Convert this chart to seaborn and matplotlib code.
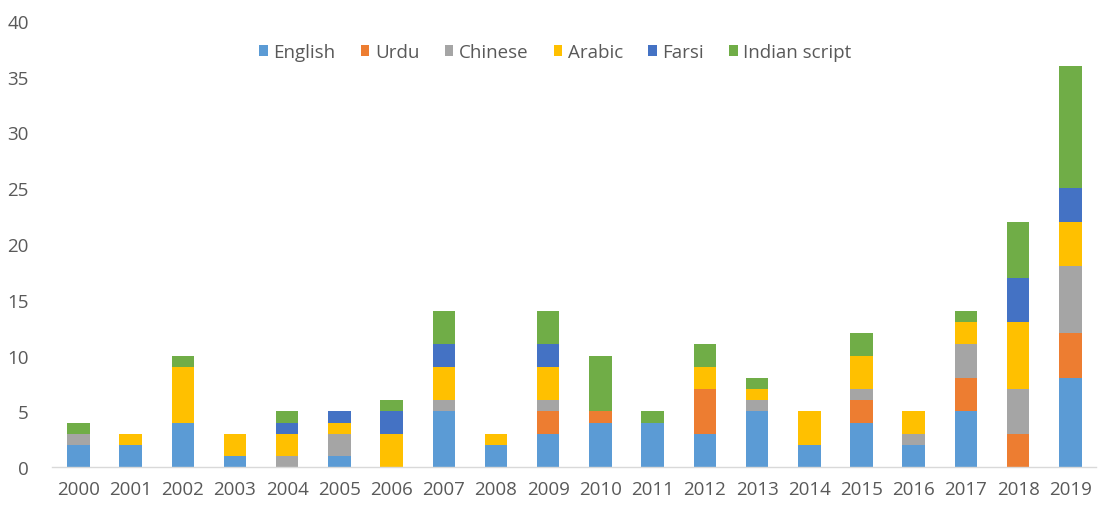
import numpy as np
import pandas as pd
import matplotlib
matplotlib.use("Agg")
import matplotlib.pyplot as plt
import seaborn as sns

years = [str(y) for y in range(2000, 2020)]
english = [2, 2, 4, 1, 0, 1, 0, 5, 2, 3, 4, 4, 3, 5, 2, 4, 2, 5, 0, 8]
urdu    = [0, 0, 0, 0, 0, 0, 0, 0, 0, 2, 1, 0, 4, 0, 0, 2, 0, 3, 3, 4]
chinese = [1, 0, 0, 0, 1, 2, 0, 1, 0, 1, 0, 0, 0, 1, 0, 1, 1, 3, 4, 6]
arabic  = [0, 1, 5, 2, 2, 1, 3, 3, 1, 3, 0, 0, 2, 1, 3, 3, 2, 2, 6, 4]
farsi   = [0, 0, 0, 0, 1, 1, 2, 2, 0, 2, 0, 0, 0, 0, 0, 0, 0, 0, 4, 3]
indian  = [1, 0, 1, 0, 1, 0, 1, 3, 0, 3, 5, 1, 2, 1, 0, 2, 0, 1, 5, 11]

series_names = ["English", "Urdu", "Chinese", "Arabic", "Farsi", "Indian script"]
series_values = [english, urdu, chinese, arabic, farsi, indian]
colors = ["#5B9BD5", "#ED7D31", "#A5A5A5", "#FFC000", "#4472C4", "#70AD47"]

sns.set_theme(style="white")
plt.rcParams["font.family"] = ["Open Sans", "DejaVu Sans"]

fig = plt.figure(figsize=(11.12, 5.10), dpi=100)
ax = fig.add_axes([0.047, 0.082, 0.939, 0.875])

df = pd.DataFrame({"year": years})
bottom = np.zeros(len(years))
for name, vals, col in zip(series_names, series_values, colors):
    df["v"] = vals
    sns.barplot(data=df, x="year", y="v", order=years, color=col, saturation=1,
                errorbar=None, width=0.43, bottom=bottom.copy(), label=name,
                ax=ax, linewidth=0)
    bottom += np.array(vals, dtype=float)

ax.set_ylim(0, 40)
ax.set_xlim(-0.5, len(years) - 0.5)
ax.set_yticks(range(0, 41, 5))
ax.set_xlabel("")
ax.set_ylabel("")
for s in ["top", "right", "left"]:
    ax.spines[s].set_visible(False)
ax.spines["bottom"].set_color("#D9D9D9")
ax.spines["bottom"].set_linewidth(1)
ax.tick_params(axis="both", length=0, labelsize=13.5, colors="#595959")
ax.tick_params(axis="y", pad=17)
ax.tick_params(axis="x", pad=9)
ax.grid(False)

leg = ax.legend(loc="center", bbox_to_anchor=(0.482, 0.93), ncol=6, frameon=False,
                fontsize=13.5, handlelength=0.45, handleheight=0.45, handletextpad=0.3,
                columnspacing=1.35, labelcolor="#595959")

fig.savefig("out.png", dpi=100)
